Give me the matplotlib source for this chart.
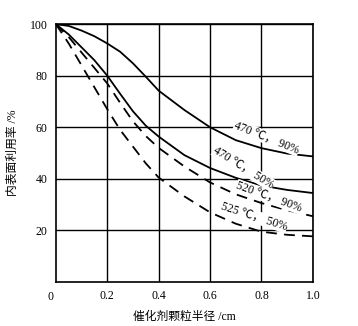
import numpy as np
import matplotlib
matplotlib.use('Agg')
import matplotlib.pyplot as plt

plt.rcParams['font.family'] = ['Liberation Serif', 'Noto Sans CJK SC', 'DejaVu Sans']

# 催化剂颗粒半径 (cm)
r = [0, 0.05, 0.1, 0.15, 0.2, 0.25, 0.3, 0.35, 0.4, 0.5, 0.6, 0.7, 0.8, 0.9, 1.0]
# 内表面利用率 (%)
a_470_90 = [100, 99.3, 97.5, 95.3, 92.5, 89.3, 84.8, 79.6, 74.2, 66.7, 60, 55, 51.9, 49.8, 48.7]
b_470_50 = [100, 96, 91, 86, 80, 73, 66.2, 60.6, 56.4, 49.2, 44.2, 40.4, 37.4, 35.7, 34.5]
c_520_90 = [100, 95, 89, 83, 77, 69.5, 62.3, 56.6, 52, 44.8, 38.6, 34, 30.6, 27.8, 25.5]
d_525_50 = [100, 92.5, 84, 75.5, 67, 59, 52.5, 46, 40.5, 33.2, 27, 22.6, 19.5, 18.3, 17.7]

labels = ['470 ℃， 90%', '470 ℃， 50%', '520 ℃， 90%', '525 ℃， 50%']
lab_x = [0.82, 0.73, 0.83, 0.77]
lab_y = [56, 44.3, 33, 25.4]
lab_rot = [-22, -32, -20, -18]

fig = plt.figure(figsize=(3.58, 3.26), dpi=100)
ax = fig.add_axes([0.156, 0.135, 0.718, 0.791])

ax.plot(r, a_470_90, color='black', lw=1.3)
ax.plot(r, b_470_50, color='black', lw=1.3)
ax.plot(r, c_520_90, color='black', lw=1.3, dashes=(6, 4))
ax.plot(r, d_525_50, color='black', lw=1.3, dashes=(6, 4))

for t, x, y, rot in zip(labels, lab_x, lab_y, lab_rot):
    ax.text(x, y, t, rotation=rot, ha='center', va='center', fontsize=8.5,
            bbox=dict(facecolor='white', edgecolor='none', pad=0.3))

ax.set_xlim(0, 1.0)
ax.set_ylim(0, 100)
ax.set_xticks([0.2, 0.4, 0.6, 0.8, 1.0])
ax.set_xticklabels(['0.2', '0.4', '0.6', '0.8', '1.0'])
ax.set_yticks([20, 40, 60, 80, 100])
ax.grid(True, color='black', lw=1.0)
ax.tick_params(length=0, labelsize=8.5, pad=6)
for s in ax.spines.values():
    s.set_linewidth(1.2)
ax.text(-0.01, -3.5, '0', ha='right', va='top', fontsize=8.5)

ax.set_xlabel('催化剂颗粒半径 /cm', fontsize=8.5, labelpad=6)
ax.set_ylabel('内表面利用率 /%', fontsize=8.5, labelpad=8)

fig.savefig('out.png', dpi=100)
